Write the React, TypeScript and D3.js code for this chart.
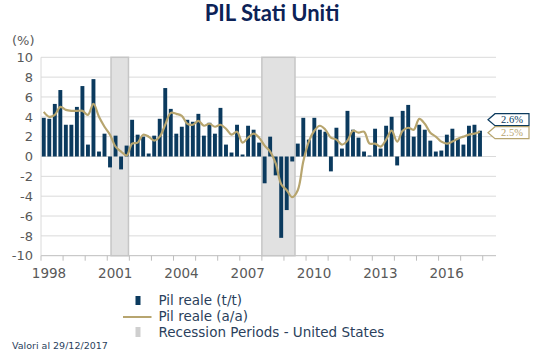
import React, { useEffect, useRef } from 'react';
import * as d3 from 'd3';

// quarterly data 1998Q1 - 2017Q4
const startYear = 1998;
const pilTT = [
  3.9, 3.8, 5.3, 6.7,
  3.2, 3.2, 5.0, 7.1,
  1.2, 7.8, 0.5, 2.3,
  -1.1, 2.1, -1.3, 1.1,
  3.7, 2.2, 2.0, 0.3,
  2.1, 3.8, 6.9, 4.8,
  2.3, 3.0, 3.7, 3.5,
  4.3, 2.1, 3.4, 2.3,
  4.9, 1.2, 0.4, 3.2,
  0.2, 3.1, 2.7, 1.4,
  -2.7, 2.0, -1.9, -8.2,
  -5.4, -0.5, 1.3, 3.9,
  1.7, 3.9, 2.7, 2.5,
  -1.5, 2.9, 0.8, 4.6,
  2.7, 1.9, 0.5, 0.1,
  2.8, 0.8, 3.1, 4.0,
  -0.9, 4.6, 5.2, 2.0,
  3.2, 2.7, 1.6, 0.5,
  0.6, 2.2, 2.8, 1.8,
  1.2, 3.1, 3.2, 2.6,
];
const pilAA = [
  4.5, 4.0, 4.2, 5.0,
  4.7, 4.6, 4.6, 4.6,
  4.2, 5.3, 4.0, 3.0,
  2.2, 1.0, 0.5, 0.1,
  1.3, 1.4, 2.2, 2.0,
  1.6, 2.0, 3.2, 4.4,
  4.3, 4.1, 3.3, 3.2,
  3.6, 3.1, 3.3, 3.0,
  3.2, 2.8, 2.2, 2.5,
  1.4, 1.9, 2.3, 1.9,
  1.1, 0.5, -0.7, -2.8,
  -3.4, -4.1, -3.4, -0.5,
  1.5, 2.6, 3.1, 2.7,
  1.9, 1.7, 1.2, 1.6,
  2.6, 2.4, 2.5, 1.3,
  1.3, 1.0, 1.7, 2.6,
  1.5, 2.6, 2.9, 2.7,
  3.8, 3.3, 2.4, 2.0,
  1.5, 1.3, 1.5, 1.8,
  2.0, 2.2, 2.3, 2.5,
];
const recessions = [
  [2001.17, 2001.96],
  [2008.0, 2009.5],
];
const yTicks = [10, 8, 6, 4, 2, 0, -2, -4, -6, -8, -10];
const xLabelYears = [1998, 2001, 2004, 2007, 2010, 2013, 2016];
const xTickYears = d3.range(1998, 2019);

const navy = '#0b3a5e';
const gold = '#b7a56f';
const grey = '#595959';
const font = '"DejaVu Sans", sans-serif';

export default function App() {
  const ref = useRef(null);

  useEffect(() => {
    if (!ref.current) return;
    const svg = d3.select(ref.current);
    svg.selectAll('*').remove();

    const x = d3.scaleLinear().domain([1998, 2018.6]).range([41, 496]);
    const y = d3.scaleLinear().domain([-10, 10]).range([255.7, 57.3]);
    const qx = (i: number) => x(startYear + (i + 0.5) / 4);

    // title
    svg
      .append('text')
      .attr('x', 272)
      .attr('y', 21)
      .attr('text-anchor', 'middle')
      .style('font', 'bold 22px Lato, sans-serif')
      .style('fill', '#0c2257')
      .text('PIL Stati Uniti');

    svg
      .append('text')
      .attr('x', 12)
      .attr('y', 45)
      .style('font', `13px ${font}`)
      .style('fill', grey)
      .text('(%)');

    // grid
    svg
      .append('g')
      .selectAll('line')
      .data(yTicks)
      .enter()
      .append('line')
      .attr('x1', 41)
      .attr('x2', 496)
      .attr('y1', (d) => y(d))
      .attr('y2', (d) => y(d))
      .attr('stroke', (d) => (d === -10 ? '#bdbdbd' : '#dadada'))
      .attr('stroke-width', 1);

    svg
      .append('line')
      .attr('x1', 41)
      .attr('x2', 41)
      .attr('y1', y(10))
      .attr('y2', y(-10))
      .attr('stroke', '#dadada');

    // y labels
    svg
      .append('g')
      .selectAll('text')
      .data(yTicks)
      .enter()
      .append('text')
      .attr('x', 33)
      .attr('y', (d) => y(d))
      .attr('dy', '0.36em')
      .attr('text-anchor', 'end')
      .style('font', `13px ${font}`)
      .style('fill', grey)
      .text((d) => d);

    // recession bands
    svg
      .append('g')
      .selectAll('rect')
      .data(recessions)
      .enter()
      .append('rect')
      .attr('x', (d) => x(d[0]))
      .attr('width', (d) => x(d[1]) - x(d[0]))
      .attr('y', y(10))
      .attr('height', y(-10) - y(10))
      .attr('fill', '#e1e1e1')
      .attr('stroke', '#c6c6c6')
      .attr('stroke-width', 1.5);

    // x ticks + labels
    svg
      .append('g')
      .selectAll('line')
      .data(xTickYears)
      .enter()
      .append('line')
      .attr('x1', (d) => x(d))
      .attr('x2', (d) => x(d))
      .attr('y1', y(-10))
      .attr('y2', y(-10) + 5)
      .attr('stroke', '#bdbdbd');

    svg
      .append('g')
      .selectAll('text')
      .data(xLabelYears)
      .enter()
      .append('text')
      .attr('x', (d) => x(d) + 8)
      .attr('y', 278)
      .attr('text-anchor', 'middle')
      .style('font', `13.5px ${font}`)
      .style('fill', grey)
      .text((d) => d);

    // bars
    const bw = 3.9;
    svg
      .append('g')
      .selectAll('rect')
      .data(pilTT)
      .enter()
      .append('rect')
      .attr('x', (d, i) => qx(i) - bw / 2)
      .attr('width', bw)
      .attr('y', (d) => y(Math.max(0, d)))
      .attr('height', (d) => Math.abs(y(d) - y(0)))
      .attr('fill', navy);

    // a/a line
    const line = d3
      .line<number>()
      .x((d, i) => qx(i))
      .y((d) => y(d))
      .curve(d3.curveCatmullRom.alpha(0.5));

    svg
      .append('path')
      .datum(pilAA)
      .attr('d', line)
      .attr('fill', 'none')
      .attr('stroke', gold)
      .attr('stroke-width', 2.2);

    // last value tags
    const tag = (cy: number, color: string, label: string) => {
      const g = svg.append('g');
      g.append('path')
        .attr('d', `M488,${cy} L495,${cy - 6} L529,${cy - 6} L529,${cy + 6} L495,${cy + 6} Z`)
        .attr('fill', 'white')
        .attr('stroke', color)
        .attr('stroke-width', 1.2);
      g.append('text')
        .attr('x', 512)
        .attr('y', cy)
        .attr('dy', '0.35em')
        .attr('text-anchor', 'middle')
        .style('font', '10.5px "Liberation Serif", serif')
        .style('fill', color)
        .text(label);
    };
    const lastTT = pilTT[pilTT.length - 1];
    const lastAA = pilAA[pilAA.length - 1];
    tag(y(lastTT) - 11, navy, `${lastTT}%`);
    tag(y(lastAA) + 1, gold, `${lastAA}%`);

    // legend
    const legend = svg.append('g');
    legend.append('rect').attr('x', 135.5).attr('y', 296).attr('width', 5).attr('height', 9).attr('fill', navy);
    legend.append('line').attr('x1', 123).attr('x2', 151.5).attr('y1', 317).attr('y2', 317).attr('stroke', gold).attr('stroke-width', 2);
    legend.append('rect').attr('x', 135.5).attr('y', 327).attr('width', 5).attr('height', 10).attr('fill', '#cfcfcf');
    const legendItems = ['Pil reale (t/t)', 'Pil reale (a/a)', 'Recession Periods - United States'];
    legend
      .selectAll('text')
      .data(legendItems)
      .enter()
      .append('text')
      .attr('x', 158.5)
      .attr('y', (d, i) => 305 + i * 16)
      .style('font', `13.5px ${font}`)
      .style('fill', '#2b3f5c')
      .text((d) => d);

    svg
      .append('text')
      .attr('x', 12)
      .attr('y', 349)
      .style('font', `9.5px ${font}`)
      .style('fill', '#2b3f5c')
      .text('Valori al 29/12/2017');
  }, []);

  return (
    <svg
      ref={ref}
      width={556}
      height={359}
      style={{ position: 'absolute', left: 0, top: 0, background: 'white' }}
    />
  );
}
